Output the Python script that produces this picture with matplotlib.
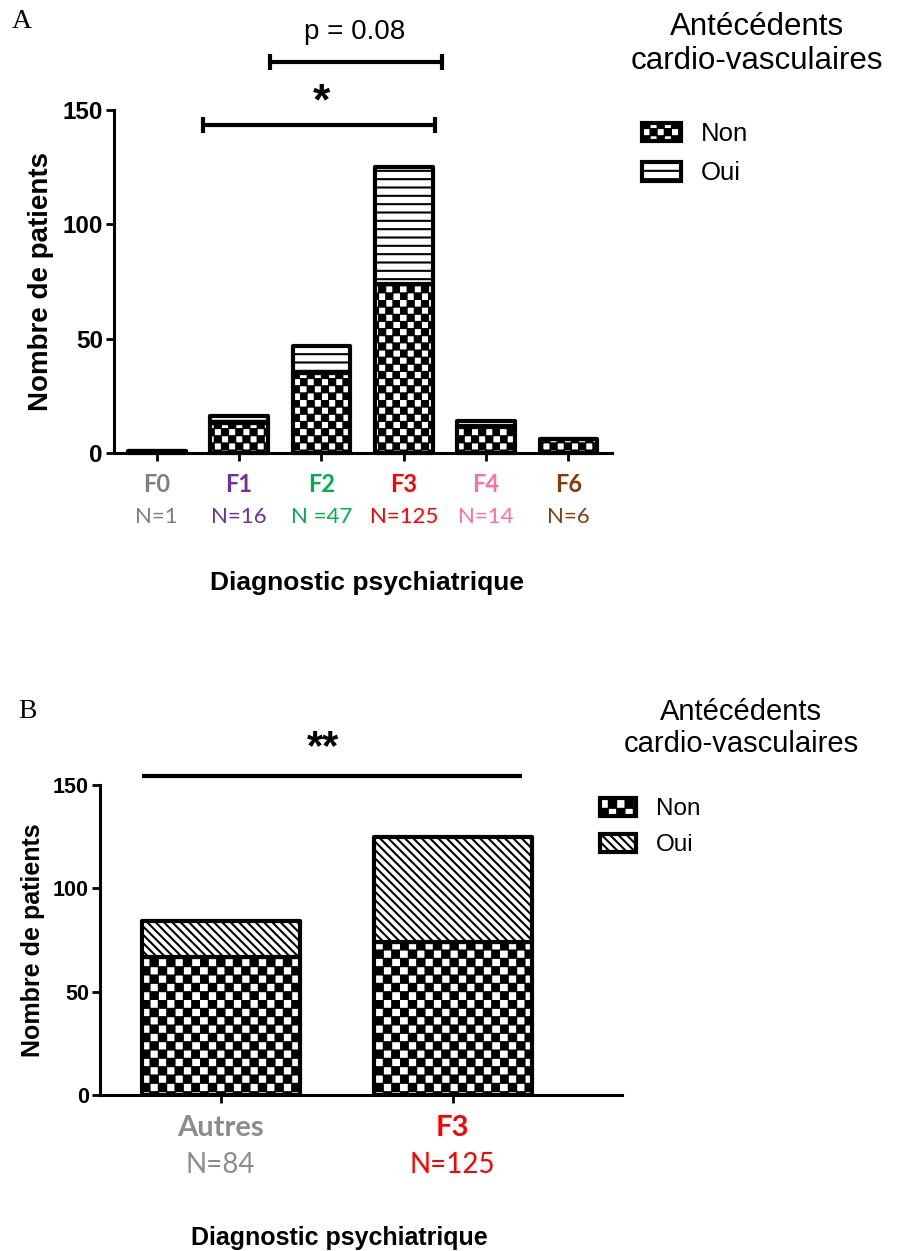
import numpy as np
import matplotlib
matplotlib.use('Agg')
import matplotlib.pyplot as plt
import matplotlib.hatch as mhatch
from matplotlib.path import Path
from matplotlib.patches import Patch

plt.rcParams.update({'font.family': 'Liberation Sans', 'hatch.linewidth': 1.5})

# panel A
cats_a = ['F0', 'F1', 'F2', 'F3', 'F4', 'F6']
n_labels_a = ['N=1', 'N=16', 'N =47', 'N=125', 'N=14', 'N=6']
cat_colors_a = ['#7F7F7F', '#7030A0', '#00B050', '#FF0000', '#FF6F9F', '#843C0C']
non_a = [1, 13, 35, 74, 12, 6]
oui_a = [0, 3, 12, 51, 2, 0]

# panel B
cats_b = ['Autres', 'F3']
n_labels_b = ['N=84', 'N=125']
cat_colors_b = ['#8C8C8C', '#FF0000']
non_b = [67, 74]
oui_b = [17, 51]

legend_title = 'Antécédents\ncardio-vasculaires'
legend_labels = ['Non', 'Oui']


class Checker(mhatch.HatchPatternBase):
    # filled checkerboard hatch, uses the 'o' symbol
    def __init__(self, hatch, density):
        self.n = hatch.count('o') * 2
        self.num_vertices = self.n * self.n // 2 * 5

    def set_vertices_and_codes(self, vertices, codes):
        s = 1.0 / self.n
        d = 0.005
        k = 0
        for i in range(self.n):
            for j in range(self.n):
                if (i + j) % 2:
                    continue
                x0, y0 = i * s + d, j * s + d
                x1, y1 = (i + 1) * s - d, (j + 1) * s - d
                vertices[k:k + 5] = [(x0, y0), (x1, y0), (x1, y1), (x0, y1), (x0, y0)]
                codes[k] = Path.MOVETO
                codes[k + 1:k + 4] = Path.LINETO
                codes[k + 4] = Path.CLOSEPOLY
                k += 5


mhatch._hatch_types = [t for t in mhatch._hatch_types
                       if t is not mhatch.SmallCircles] + [Checker]

CHK_A = 'o' * 7
CHK_B = 'o' * 6
STRIPES = '--'
DIAG = '\\' * 4

W, H = 898, 1251
fig = plt.figure(figsize=(W / 100, H / 100), dpi=100)


def px_axes(left, top, right, bottom):
    return fig.add_axes([left / W, 1 - bottom / H, (right - left) / W, (bottom - top) / H])


def style_axes(ax, xlim, tick_fs):
    ax.set_ylim(0, 150)
    ax.set_xlim(*xlim)
    ax.set_yticks([0, 50, 100, 150])
    for s in ['top', 'right']:
        ax.spines[s].set_visible(False)
    for s in ['left', 'bottom']:
        ax.spines[s].set_linewidth(2.2)
    ax.tick_params(axis='y', length=6, width=2, labelsize=tick_fs, pad=2)
    ax.tick_params(axis='x', length=6, width=2, labelbottom=False)
    for lab in ax.get_yticklabels():
        lab.set_fontweight('bold')


def bracket(ax, x0, x1, y, h, ends=True):
    ax.plot([x0, x1], [y, y], color='black', lw=3, clip_on=False, solid_capstyle='butt')
    if ends:
        for x in (x0, x1):
            ax.plot([x, x], [y - h, y + h], color='black', lw=3, clip_on=False,
                    solid_capstyle='butt')


# ---------- A ----------
ax = px_axes(114, 110, 612, 453)
x = np.arange(len(cats_a))
ax.bar(x, non_a, width=0.7, color='white', edgecolor='black', linewidth=3,
       hatch=CHK_A, joinstyle='round', zorder=2, clip_on=False)
ax.bar(x, oui_a, width=0.7, bottom=non_a, color='white', edgecolor='black', linewidth=3,
       hatch=STRIPES, joinstyle='round', zorder=2, clip_on=False)
style_axes(ax, (-0.52, 5.53), 17.5)
ax.set_xticks(x)
tr = ax.get_xaxis_transform()
for i in range(len(cats_a)):
    ax.text(x[i], -0.093, cats_a[i], transform=tr, ha='center', va='center',
            color=cat_colors_a[i], family='Lato', fontweight='bold', fontsize=17)
    ax.text(x[i], -0.187, n_labels_a[i], transform=tr, ha='center', va='center',
            color=cat_colors_a[i], family='Lato', fontsize=16)
ax.text(2.55, -0.379, 'Diagnostic psychiatrique', transform=tr, ha='center', va='center',
        fontweight='bold', fontsize=19)
ax.set_ylabel('Nombre de patients', fontweight='bold', fontsize=20, labelpad=6)

bracket(ax, 0.56, 3.38, 143.4, 3.5)
ax.text(2.0, 153, '*', ha='center', va='center', fontsize=32, fontweight='bold')
bracket(ax, 1.37, 3.46, 171, 3.5)
ax.text(2.4, 184, 'p = 0.08', ha='center', va='center', fontsize=20)

fig.text(12 / W, 1 - 22 / H, 'A', family='Liberation Serif', fontsize=20, va='center')
fig.text(757 / W, 1 - 44 / H, legend_title, ha='center', va='center',
         multialignment='center', fontsize=22.5, linespacing=1.2)
hA = [Patch(facecolor='white', edgecolor='black', linewidth=3, hatch=CHK_A, joinstyle='round'),
      Patch(facecolor='white', edgecolor='black', linewidth=3, hatch=STRIPES, joinstyle='round')]
fig.legend(hA, legend_labels, loc='upper left', bbox_to_anchor=(642 / W, 1 - 122 / H),
           frameon=False, borderpad=0, borderaxespad=0, handlelength=1.5,
           handleheight=0.75, handletextpad=0.8, labelspacing=0.6, fontsize=18.5)

# ---------- B ----------
ax2 = px_axes(100, 785, 622, 1095)
xb = np.arange(len(cats_b))
ax2.bar(xb, non_b, width=0.68, color='white', edgecolor='black', linewidth=3,
        hatch=CHK_B, joinstyle='round', zorder=2)
ax2.bar(xb, oui_b, width=0.68, bottom=non_b, color='white', edgecolor='black', linewidth=3,
        hatch=DIAG, joinstyle='round', zorder=2)
style_axes(ax2, (-0.52, 1.73), 15.5)
ax2.set_xticks(xb)
tr2 = ax2.get_xaxis_transform()
for i in range(len(cats_b)):
    ax2.text(xb[i], -0.106, cats_b[i], transform=tr2, ha='center', va='center',
             color=cat_colors_b[i], family='Lato', fontweight='bold', fontsize=21)
    ax2.text(xb[i], -0.226, n_labels_b[i], transform=tr2, ha='center', va='center',
             color=cat_colors_b[i], family='Lato', fontsize=20)
fig.text(339 / W, 1 / H, 'Diagnostic psychiatrique', ha='center', va='bottom',
         fontweight='bold', fontsize=18)
ax2.set_ylabel('Nombre de patients', fontweight='bold', fontsize=18, labelpad=6)

bracket(ax2, -0.34, 1.30, 154.3, 0, ends=False)
ax2.text(0.44, 168, '**', ha='center', va='center', fontsize=30, fontweight='bold')

fig.text(18 / W, 1 - 712 / H, 'B', family='Liberation Serif', fontsize=20, va='center')
fig.text(741 / W, 1 - 728 / H, legend_title, ha='center', va='center',
         multialignment='center', fontsize=21, linespacing=1.2)
hB = [Patch(facecolor='white', edgecolor='black', linewidth=3, hatch=CHK_B, joinstyle='round'),
      Patch(facecolor='white', edgecolor='black', linewidth=3, hatch=DIAG, joinstyle='round')]
fig.legend(hB, legend_labels, loc='upper left', bbox_to_anchor=(600 / W, 1 - 798 / H),
           frameon=False, borderpad=0, borderaxespad=0, handlelength=1.5,
           handleheight=0.75, handletextpad=0.8, labelspacing=0.55, fontsize=17.5)

fig.savefig('out.png', dpi=100)
